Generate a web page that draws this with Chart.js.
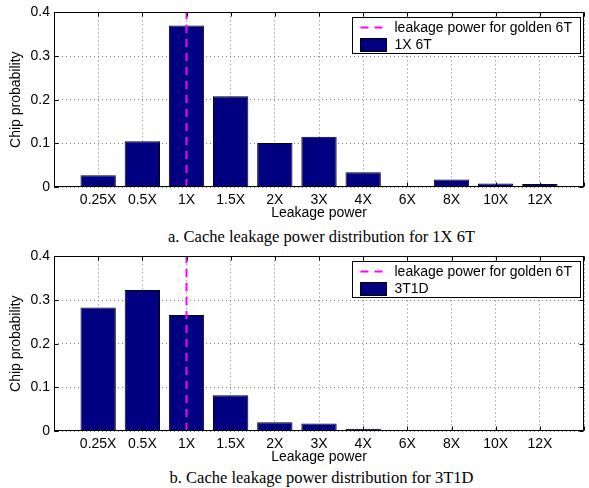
<!DOCTYPE html>
<html>
<head>
<meta charset="utf-8">
<script src="https://cdn.jsdelivr.net/npm/chart.js@4.4.0/dist/chart.umd.min.js"></script>
<style>
    html, body { margin: 0; padding: 0; background: #fff; overflow: hidden; }
    #page { position: relative; width: 589px; height: 488px; }
    .panel { position: absolute; left: 0; width: 589px; height: 222px; }
    .caption {
        position: absolute; left: 54px; width: 535px; text-align: center;
        font-family: 'Liberation Serif', serif; font-size: 16.5px; line-height: 20px; color: #000;
    }
</style>
</head>
<body>
<div id="page">
    <div class="panel" style="top:0"><canvas id="chartA"></canvas></div>
    <div class="caption" style="top:227px">a. Cache leakage power distribution for 1X 6T</div>
    <div class="panel" style="top:244px"><canvas id="chartB"></canvas></div>
    <div class="caption" style="top:468px">b. Cache leakage power distribution for 3T1D</div>
</div>
<script>
// ========== DATA ==========
const categories = ['0.25X', '0.5X', '1X', '1.5X', '2X', '3X', '4X', '6X', '8X', '10X', '12X'];
const prob1X6T = [0.027, 0.105, 0.370, 0.208, 0.101, 0.115, 0.034, 0.001, 0.017, 0.008, 0.007];
const prob3T1D = [0.283, 0.323, 0.266, 0.082, 0.020, 0.017, 0.005, 0.001, 0.001, 0.0005, 0.0005];
const goldenLeakage = '1X';
const yTicks = [0, 0.1, 0.2, 0.3, 0.4];

Chart.defaults.font.family = "'Liberation Sans', Arial, sans-serif";
Chart.defaults.font.size = 14;
Chart.defaults.color = '#000';

// ========== FRAME, INWARD TICKS AND BOXED LEGEND ==========
const matlabFrame = {
    id: 'matlabFrame',
    afterDraw(chart) {
        const { ctx, chartArea: a, scales: { x, y } } = chart;
        const L = Math.round(a.left) + 0.5, R = Math.round(a.right) - 0.5;
        const T = Math.round(a.top) + 0.5, B = Math.round(a.bottom) - 0.5;

        ctx.save();
        ctx.strokeStyle = '#000';
        ctx.lineWidth = 1;
        ctx.setLineDash([]);
        ctx.strokeRect(L, T, R - L, B - T);

        ctx.beginPath();
        x.ticks.forEach(t => {
            const px = Math.round(x.getPixelForValue(t.value)) + 0.5;
            ctx.moveTo(px, T); ctx.lineTo(px, T + 4);
            ctx.moveTo(px, B); ctx.lineTo(px, B - 4);
        });
        y.ticks.forEach(t => {
            const py = Math.round(y.getPixelForValue(t.value)) + 0.5;
            ctx.moveTo(L, py); ctx.lineTo(L + 4, py);
            ctx.moveTo(R, py); ctx.lineTo(R - 4, py);
        });
        ctx.stroke();

        // legend
        const sets = chart.data.datasets;
        ctx.font = "14px 'Liberation Sans', Arial, sans-serif";
        const textW = Math.max(...sets.map(d => ctx.measureText(d.label).width));
        const boxW = Math.round(8 + 26 + 8 + textW + 9);
        const boxH = 36;
        const bx = Math.round(a.right - 4 - boxW) + 0.5;
        const by = Math.round(a.top + 5) + 0.5;
        ctx.fillStyle = '#fff';
        ctx.fillRect(bx, by, boxW, boxH);
        ctx.strokeRect(bx, by, boxW, boxH);

        ctx.textBaseline = 'middle';
        ctx.textAlign = 'left';
        sets.forEach((d, i) => {
            const cy = by + 10 + i * 17;
            if (d.type === 'line') {
                ctx.save();
                ctx.strokeStyle = d.borderColor;
                ctx.lineWidth = d.borderWidth;
                ctx.setLineDash(d.borderDash);
                ctx.beginPath();
                ctx.moveTo(bx + 8, cy); ctx.lineTo(bx + 31, cy);
                ctx.stroke();
                ctx.restore();
            } else {
                ctx.fillStyle = d.backgroundColor;
                ctx.fillRect(bx + 8, cy - 6, 26, 13);
                ctx.strokeStyle = '#000';
                ctx.strokeRect(bx + 8, cy - 6, 26, 13);
            }
            ctx.fillStyle = '#000';
            ctx.fillText(d.label, bx + 42, cy + 1);
        });
        ctx.restore();
    }
};

// ========== BUILD ONE PANEL ==========
function makeChart(canvasId, values, seriesLabel) {
    const goldenX = categories.indexOf(goldenLeakage) + 1;
    const yMin = yTicks[0], yMax = yTicks[yTicks.length - 1];

    return new Chart(document.getElementById(canvasId), {
        type: 'bar',
        data: {
            datasets: [
                {
                    type: 'line',
                    label: 'leakage power for golden 6T',
                    data: [{ x: goldenX, y: yMin }, { x: goldenX, y: yMax }],
                    borderColor: '#ff00ff',
                    borderWidth: 2,
                    borderDash: [8, 6],
                    pointRadius: 0,
                    fill: false,
                    order: 0
                },
                {
                    type: 'bar',
                    label: seriesLabel,
                    data: values.map((v, i) => ({ x: i + 1, y: v })),
                    backgroundColor: '#000080',
                    borderColor: '#000',
                    borderWidth: 1,
                    barPercentage: 0.8,
                    categoryPercentage: 1,
                    order: 1
                }
            ]
        },
        options: {
            responsive: true,
            maintainAspectRatio: false,
            animation: false,
            layout: { padding: { top: 9, right: 0, left: 0, bottom: 0 } },
            plugins: {
                legend: { display: false },
                tooltip: { enabled: false }
            },
            scales: {
                x: {
                    type: 'linear',
                    min: 0,
                    max: categories.length + 1,
                    offset: false,
                    grid: { offset: false, color: '#777', drawTicks: false },
                    border: { display: false, dash: [1, 3] },
                    ticks: {
                        stepSize: 1,
                        autoSkip: false,
                        maxRotation: 0,
                        padding: 5,
                        callback: v => categories[v - 1] || ''
                    },
                    title: { display: true, text: 'Leakage power', padding: 0 },
                    afterFit: s => { s.height = 35; }
                },
                y: {
                    min: yMin,
                    max: yMax,
                    grid: { color: '#777', drawTicks: false },
                    border: { display: false, dash: [1, 3] },
                    ticks: {
                        stepSize: yTicks[1] - yTicks[0],
                        padding: 4,
                        callback: v => v === 0 ? '0' : v.toFixed(1)
                    },
                    title: { display: true, text: 'Chip probability', padding: { top: 8, bottom: 0 } },
                    afterFit: s => { s.width = 54; }
                }
            }
        },
        plugins: [matlabFrame]
    });
}

makeChart('chartA', prob1X6T, '1X 6T');
makeChart('chartB', prob3T1D, '3T1D');
</script>
</body>
</html>
